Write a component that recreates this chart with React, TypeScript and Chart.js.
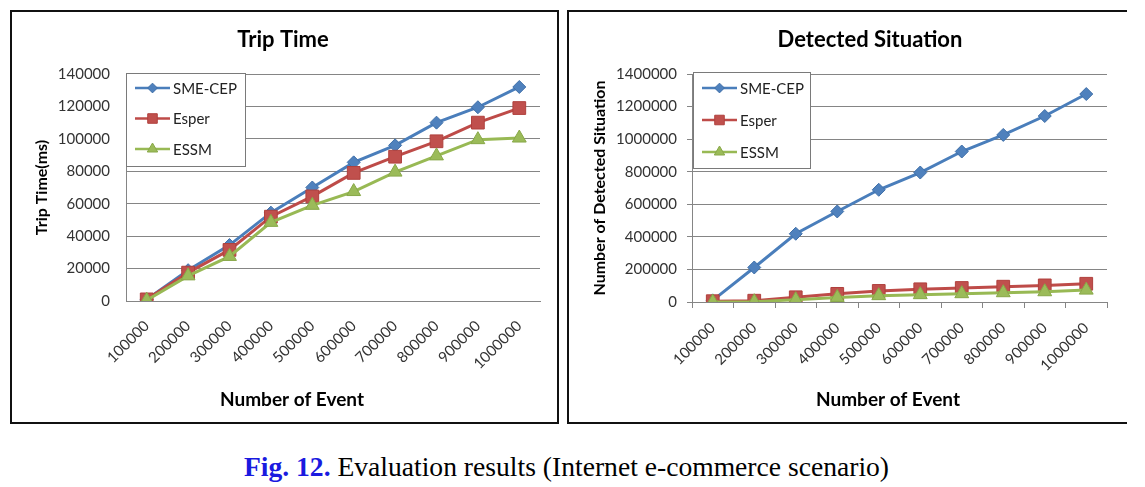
import React, { useEffect, useRef } from 'react';
import { Chart, registerables } from 'chart.js';

Chart.register(...registerables);

// ---------- data ----------
const categories = ['100000', '200000', '300000', '400000', '500000', '600000', '700000', '800000', '900000', '1000000'];

const tripSME = [1000, 19000, 34500, 54500, 70000, 85500, 96000, 110000, 119500, 132000];
const tripEsper = [1000, 17500, 31500, 52000, 64500, 79000, 89000, 98500, 110000, 119000];
const tripESSM = [500, 15500, 27500, 48500, 59000, 67500, 79500, 89500, 99500, 100500];

const detSME = [10000, 212000, 419000, 556000, 689000, 795000, 924000, 1026000, 1142000, 1277000];
const detEsper = [5000, 8000, 29000, 50000, 68000, 78000, 86000, 94000, 102000, 112000];
const detESSM = [0, 2000, 14000, 28000, 39000, 45000, 51000, 57000, 63000, 73000];

const seriesNames = ['SME-CEP', 'Esper', 'ESSM'];
const xAxisTitle = 'Number of Event';
const tripTickMax = 140000;
const tripTickStep = 20000;
const detTickMax = 1400000;
const detTickStep = 200000;

// ---------- styles ----------
const FONT = 'Lato, "Open Sans", "DejaVu Sans", sans-serif';
const GRID = '#858585';
const seriesStyle = [
  { line: '#4A7EBB', fill: '#4F81BD', edge: '#3F6FA8', shape: 'rectRot', r: 6.5 },
  { line: '#BE4B48', fill: '#C0504D', edge: '#B0403D', shape: 'rect', r: 9 },
  { line: '#98B954', fill: '#9BBB59', edge: '#88A848', shape: 'triangle', r: 8 },
];

function drawMarker(ctx: CanvasRenderingContext2D, shape: string, x: number, y: number, r: number, fill: string, edge: string) {
  ctx.beginPath();
  if (shape === 'rect') {
    const s = r * Math.SQRT1_2;
    ctx.rect(x - s, y - s, 2 * s, 2 * s);
  } else if (shape === 'rectRot') {
    ctx.moveTo(x, y - r);
    ctx.lineTo(x + r, y);
    ctx.lineTo(x, y + r);
    ctx.lineTo(x - r, y);
    ctx.closePath();
  } else {
    ctx.moveTo(x, y - r);
    ctx.lineTo(x + r * 0.866, y + r * 0.5);
    ctx.lineTo(x - r * 0.866, y + r * 0.5);
    ctx.closePath();
  }
  ctx.fillStyle = fill;
  ctx.fill();
  ctx.strokeStyle = edge;
  ctx.lineWidth = 1;
  ctx.stroke();
}

const insideLegend = {
  id: 'insideLegend',
  afterDraw(chart: any, _args: any, opts: any) {
    const { ctx, chartArea } = chart;
    const x = chartArea.left + opts.dx;
    const y = chartArea.top + opts.dy;
    ctx.save();
    ctx.fillStyle = '#ffffff';
    ctx.fillRect(x, y, opts.w, opts.h);
    ctx.strokeStyle = '#7a7a7a';
    ctx.lineWidth = 1;
    ctx.strokeRect(x + 0.5, y + 0.5, opts.w, opts.h);
    chart.data.datasets.forEach((ds: any, i: number) => {
      const st = seriesStyle[i];
      const cy = y + opts.rowTop + i * opts.rowGap;
      ctx.strokeStyle = st.line;
      ctx.lineWidth = 2.5;
      ctx.beginPath();
      ctx.moveTo(x + 9, cy);
      ctx.lineTo(x + 44, cy);
      ctx.stroke();
      drawMarker(ctx, st.shape, x + 26.5, cy, st.r * 0.75, st.fill, st.edge);
      ctx.fillStyle = '#222';
      ctx.font = `15px ${FONT}`;
      ctx.textBaseline = 'middle';
      ctx.textAlign = 'left';
      ctx.fillText(ds.label, x + 47, cy + 1);
    });
    ctx.restore();
  },
};

// chart title and category-axis title, placed where the reference has them
const placedTitles = {
  id: 'placedTitles',
  afterDraw(chart: any, _args: any, opts: any) {
    const { ctx } = chart;
    ctx.save();
    ctx.fillStyle = '#000';
    ctx.textAlign = 'center';
    ctx.textBaseline = 'middle';
    ctx.font = `bold 22px ${FONT}`;
    ctx.fillText(opts.title, opts.titleX, opts.titleY);
    ctx.font = `bold 19px ${FONT}`;
    ctx.fillText(opts.xTitle, opts.xTitleX, chart.height - opts.xTitleFromBottom);
    ctx.restore();
  },
};

interface PanelProps {
  title: string;
  yTitle: string;
  series: number[][];
  yMax: number;
  yStep: number;
  width: number;
  height: number;
  yWidth: number;
  xHeight: number;
  padRight: number;
  yTitlePad: number;
  xTicks: boolean;
  titleX: number;
  xTitleX: number;
  legend: { dx: number; dy: number; w: number; h: number; rowTop: number; rowGap: number };
}

function ChartPanel(p: PanelProps) {
  const ref = useRef<HTMLCanvasElement | null>(null);
  useEffect(() => {
    if (!ref.current) return;
    const datasets = p.series.map((data, i) => {
      const st = seriesStyle[i];
      return {
        label: seriesNames[i],
        data,
        borderColor: st.line,
        backgroundColor: st.fill,
        pointBackgroundColor: st.fill,
        pointBorderColor: st.edge,
        pointBorderWidth: 1,
        pointStyle: st.shape,
        pointRadius: st.r,
        borderWidth: 3,
        tension: 0,
        order: 3 - i,
      };
    });
    const chart = new Chart(ref.current, {
      type: 'line',
      data: { labels: categories, datasets },
      plugins: [insideLegend, placedTitles],
      options: {
        animation: false,
        responsive: false,
        devicePixelRatio: 1,
        layout: { padding: { left: 0, right: p.padRight, top: 62, bottom: 0 } },
        plugins: {
          legend: { display: false },
          tooltip: { enabled: false },
          title: { display: false },
          insideLegend: p.legend,
          placedTitles: {
            title: p.title,
            titleX: p.titleX,
            titleY: 28.2,
            xTitle: xAxisTitle,
            xTitleX: p.xTitleX,
            xTitleFromBottom: 22,
          },
        } as any,
        scales: {
          x: {
            type: 'category',
            offset: true,
            grid: {
              display: p.xTicks,
              offset: true,
              drawOnChartArea: false,
              drawTicks: p.xTicks,
              tickLength: 6,
              color: GRID,
            },
            border: { display: true, color: GRID, width: 1 },
            ticks: {
              autoSkip: false,
              minRotation: 45,
              maxRotation: 45,
              padding: p.xTicks ? 11 : 16,
              color: '#333',
              font: { family: FONT, size: 15 },
            },
            title: { display: false },
            afterFit: (s: any) => {
              s.height = p.xHeight;
            },
          },
          y: {
            min: 0,
            max: p.yMax,
            grid: {
              display: true,
              color: GRID,
              drawTicks: p.xTicks,
              tickLength: 5,
            },
            border: { display: true, color: GRID, width: 1 },
            ticks: {
              stepSize: p.yStep,
              padding: p.xTicks ? 10 : 16,
              color: '#333',
              font: { family: FONT, size: 15 },
              callback: (v: any) => String(v),
            },
            title: {
              display: true,
              text: p.yTitle,
              color: '#000',
              font: { family: FONT, size: 16, weight: 'bold' },
              padding: { top: p.yTitlePad, bottom: 0 },
            },
            afterFit: (s: any) => {
              s.width = p.yWidth;
            },
          },
        },
      } as any,
    });
    return () => chart.destroy();
  }, []);
  return <canvas ref={ref} width={p.width} height={p.height} style={{ display: 'block', width: p.width, height: p.height }} />;
}

export default function App() {
  return (
    <div
      style={{
        position: 'absolute',
        left: 0,
        top: 0,
        width: 1145,
        height: 487,
        background: '#fff',
        overflow: 'hidden',
      }}
    >
      <div
        style={{
          position: 'absolute',
          left: 10,
          top: 10,
          width: 549,
          height: 414,
          boxSizing: 'border-box',
          border: '2px solid #111',
          overflow: 'hidden',
        }}
      >
        <ChartPanel
          title="Trip Time"
          yTitle="Trip Time(ms)"
          series={[tripSME, tripEsper, tripESSM]}
          yMax={tripTickMax}
          yStep={tripTickStep}
          width={545}
          height={410}
          yWidth={114}
          xHeight={121}
          padRight={17}
          yTitlePad={20}
          xTicks={false}
          titleX={271}
          xTitleX={280}
          legend={{ dx: 0, dy: -1, w: 119, h: 93, rowTop: 15, rowGap: 30.5 }}
        />
      </div>
      <div
        style={{
          position: 'absolute',
          left: 567,
          top: 10,
          width: 560,
          height: 414,
          boxSizing: 'border-box',
          borderLeft: '2px solid #111',
          borderTop: '2px solid #111',
          borderBottom: '2px solid #111',
          overflow: 'hidden',
        }}
      >
        <ChartPanel
          title="Detected Situation"
          yTitle="Number of Detected Situation"
          series={[detSME, detEsper, detESSM]}
          yMax={detTickMax}
          yStep={detTickStep}
          width={558}
          height={410}
          yWidth={123}
          xHeight={120}
          padRight={20}
          yTitlePad={21}
          xTicks={true}
          titleX={301}
          xTitleX={319}
          legend={{ dx: 1, dy: -2, w: 117, h: 96, rowTop: 16, rowGap: 32 }}
        />
      </div>
      <div
        style={{
          position: 'absolute',
          left: 0,
          top: 451,
          width: 1133,
          textAlign: 'center',
          fontFamily: '"Liberation Serif", "Times New Roman", serif',
          fontSize: 27.6,
          lineHeight: '32px',
          color: '#000',
          whiteSpace: 'nowrap',
        }}
      >
        <span style={{ color: '#1a1ae0', fontWeight: 'bold' }}>Fig. 12.</span> Evaluation results (Internet e-commerce scenario)
      </div>
    </div>
  );
}
